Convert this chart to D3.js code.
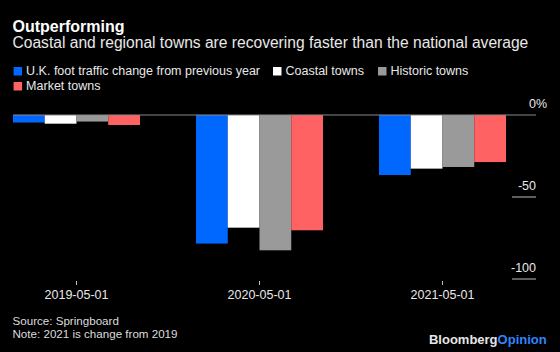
<!DOCTYPE html>
<html>
<head>
<meta charset="utf-8">
<script src="https://cdn.jsdelivr.net/npm/d3@7"></script>
<style>
  html, body { margin: 0; padding: 0; background: #000; }
  svg { display: block; font-family: "Liberation Sans", Arial, Helvetica, sans-serif; }
</style>
</head>
<body>
<div class="chart"></div>
<script>
// Dimensions
const width = 560;
const height = 352;

// Données
const dates = ['2019-05-01', '2020-05-01', '2021-05-01'];
const seriesNames = ['U.K. foot traffic change from previous year', 'Coastal towns', 'Historic towns', 'Market towns'];
const seriesColors = ['#0068ff', '#ffffff', '#9a9a9a', '#ff6262'];
const ukValues = [-4.6, -78.4, -36.6];
const coastalValues = [-5.3, -68.7, -32.7];
const historicValues = [-4.0, -82.5, -31.7];
const marketValues = [-6.1, -70.3, -28.7];
const yTicks = [0, -50, -100];

const seriesValues = [ukValues, coastalValues, historicValues, marketValues];

const svg = d3.select('.chart')
  .append('svg')
  .attr('width', width)
  .attr('height', height);

svg.append('rect').attr('width', width).attr('height', height).attr('fill', '#000');

// Titres
svg.append('text')
  .attr('x', 12.5).attr('y', 31.5)
  .attr('fill', '#fff')
  .style('font-size', '16px').style('font-weight', 'bold')
  .text('Outperforming');

svg.append('text')
  .attr('x', 12.5).attr('y', 47.5)
  .attr('fill', '#e8e8e8')
  .style('font-size', '15.6px')
  .text('Coastal and regional towns are recovering faster than the national average');

// Légende
const legendPos = [[13.6, 75], [273, 75], [378, 75], [13.6, 90]];
const legend = svg.append('g');
seriesNames.forEach((name, i) => {
  const g = legend.append('g').attr('transform', `translate(${legendPos[i][0]}, ${legendPos[i][1]})`);
  g.append('rect').attr('x', 0).attr('y', -8).attr('width', 8.5).attr('height', 8.5).attr('fill', seriesColors[i]);
  g.append('text').attr('x', 12.5).attr('y', 0).attr('fill', '#e8e8e8')
    .style('font-size', '12.5px').text(name);
});

// Echelles
const x = d3.scaleBand()
  .domain(dates)
  .range([13, 506])
  .paddingInner(0.306)
  .paddingOuter(0);

const xSeries = d3.scaleBand()
  .domain(d3.range(seriesNames.length))
  .range([0, x.bandwidth()]);

const y = d3.scaleLinear()
  .domain([0, -100])
  .range([115, 279]);

// Barres
const groups = svg.append('g')
  .selectAll('g')
  .data(dates)
  .join('g')
    .attr('transform', d => `translate(${x(d)}, 0)`);

groups.selectAll('rect')
  .data((d, i) => seriesValues.map((vals, s) => ({ s: s, v: vals[i] })))
  .join('rect')
    .attr('x', d => xSeries(d.s))
    .attr('width', xSeries.bandwidth())
    .attr('y', d => y(Math.max(0, d.v)))
    .attr('height', d => Math.abs(y(d.v) - y(0)))
    .attr('fill', d => seriesColors[d.s]);

// Ligne zéro
svg.append('line')
  .attr('x1', 13).attr('x2', 536)
  .attr('y1', y(0)).attr('y2', y(0))
  .attr('stroke', '#8a8a8a').attr('stroke-width', 1);

// Axe vertical (à droite)
const yAxis = svg.append('g');
yAxis.selectAll('line')
  .data(yTicks.filter(d => d !== 0))
  .join('line')
    .attr('x1', 512).attr('x2', 536)
    .attr('y1', d => y(d)).attr('y2', d => y(d))
    .attr('stroke', '#bdbdbd').attr('stroke-width', 1);

yAxis.selectAll('text')
  .data(yTicks)
  .join('text')
    .attr('x', 536)
    .attr('y', d => y(d) - 7.5)
    .attr('text-anchor', 'end')
    .attr('fill', '#e8e8e8')
    .style('font-size', '12.5px')
    .text(d => d);

svg.append('text')
  .attr('x', 536).attr('y', y(0) - 7.5)
  .attr('fill', '#e8e8e8')
  .style('font-size', '12.5px')
  .text('%');

// Axe horizontal
const xAxis = svg.append('g')
  .attr('transform', 'translate(0, 281)')
  .call(d3.axisBottom(x).tickSize(4).tickPadding(5.5))
  .call(g => g.select('.domain').remove());
xAxis.selectAll('line').attr('stroke', '#bdbdbd');
xAxis.selectAll('text')
  .attr('fill', '#e8e8e8')
  .style('font-size', '12.5px')
  .style('font-family', '"Liberation Sans", Arial, sans-serif');

// Source et note
svg.append('text')
  .attr('x', 12.5).attr('y', 325)
  .attr('fill', '#dcdcdc')
  .style('font-size', '11.6px')
  .text('Source: Springboard');
svg.append('text')
  .attr('x', 12.5).attr('y', 338.3)
  .attr('fill', '#dcdcdc')
  .style('font-size', '11.6px')
  .text('Note: 2021 is change from 2019');

// Logo
const logo = svg.append('text')
  .attr('x', 546.7).attr('y', 344)
  .attr('text-anchor', 'end')
  .style('font-size', '13px').style('font-weight', 'bold');
logo.append('tspan').attr('fill', '#e6e6e6').text('Bloomberg');
logo.append('tspan').attr('fill', '#2f86ff').text('Opinion');
</script>
</body>
</html>
